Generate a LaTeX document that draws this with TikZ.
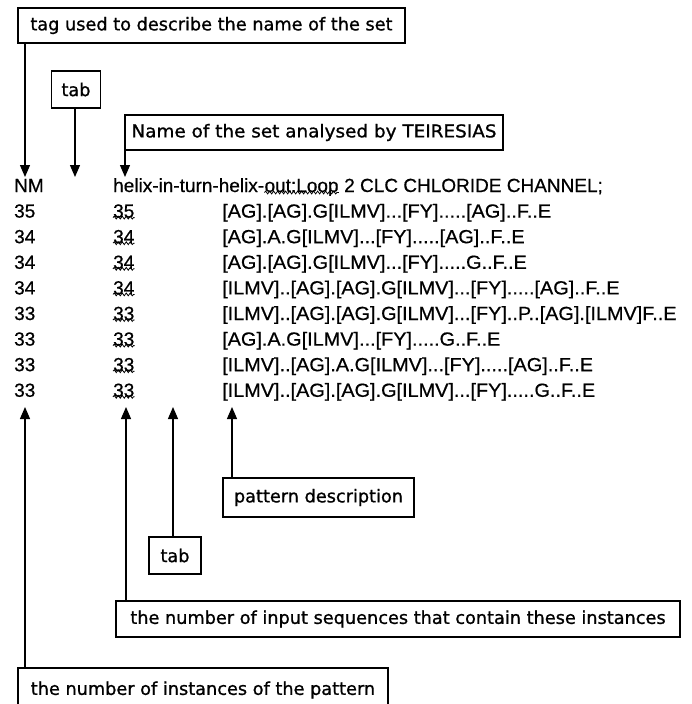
\documentclass[tikz,border=0pt]{standalone}
\usepackage{fontspec}
\newfontfamily\boxfont[FakeBold=1]{DejaVu Sans}
\newfontfamily\rowfont[FakeBold=0.6]{Liberation Sans}
\usetikzlibrary{arrows.meta,decorations.pathmorphing}
\newcommand{\pstretch}[1]{\scalebox{1.045}[1]{#1}}
\begin{document}
\begin{tikzpicture}[x=1pt,y=-1pt,
  lbl/.style={draw, line width=1.3pt, font=\boxfont\fontsize{17.7}{20}\selectfont,
    inner sep=0pt, minimum height=35pt, anchor=center},
  conn/.style={line width=1.3pt, -{Triangle[width=10pt,length=12pt]}},
  row/.style={font=\rowfont\fontsize{19}{22}\selectfont, inner sep=0pt, anchor=base west},
  squig/.style={decorate, decoration={snake, amplitude=1.4pt, segment length=4pt}, line width=0.8pt}]
\useasboundingbox (0,0) rectangle (692,704);
\fill[white] (0,0) rectangle (692,704);
\clip (0,0) rectangle (692,704);

% top labels
\node[lbl, minimum width=387pt] (tag) at (211.5,25.5) {tag used to describe the name of the set};
\node[lbl, minimum width=49pt, minimum height=37pt] (tabA) at (76,89.5) {tab};
\node[lbl, minimum width=378pt] (name) at (314,132.5) {\scalebox{1.04}[1]{Name of the set analysed by TEIRESIAS}};

\coordinate (t1) at (25,177);
\coordinate (t2) at (75,177);
\coordinate (t3) at (125,177);
\draw[conn] (tag.south -| t1) -- (t1);
\draw[conn] (tabA.south -| t2) -- (t2);
\draw[conn] (name.south -| t3) -- (t3);

% header row
\node[row] (nm) at (14,192) {NM};
\node[row] (h1) at (113,192) {helix-in-turn-helix-};
\node[row, anchor=base west] (h2) at (h1.base east) {out:Loop};
\node[row, anchor=base west] (h3) at (h2.base east) {\ 2 CLC CHLORIDE CHANNEL;};
\draw[squig] ([yshift=-0.5pt]h2.base west) -- ([yshift=-0.5pt]h2.base east);

% data rows
\foreach \i/\a/\p in {
  1/35/{[AG].[AG].G[ILMV]...[FY].....[AG]..F..E},
  2/34/{[AG].A.G[ILMV]...[FY].....[AG]..F..E},
  3/34/{[AG].[AG].G[ILMV]...[FY].....G..F..E},
  4/34/{[ILMV]..[AG].[AG].G[ILMV]...[FY].....[AG]..F..E},
  5/33/{[ILMV]..[AG].[AG].G[ILMV]...[FY]..P..[AG].[ILMV]F..E},
  6/33/{[AG].A.G[ILMV]...[FY].....G..F..E},
  7/33/{[ILMV]..[AG].A.G[ILMV]...[FY].....[AG]..F..E},
  8/33/{[ILMV]..[AG].[AG].G[ILMV]...[FY].....G..F..E}}{
  \pgfmathsetmacro{\yb}{192+25.6*\i}
  \node[row] (c1r\i) at (14,\yb) {\a};
  \node[row] (c2r\i) at (113,\yb) {\a};
  \node[row] (c3r\i) at (222,\yb) {\pstretch{\p}};
  \draw[squig] ([yshift=0pt]c2r\i.base west) -- ([yshift=0pt]c2r\i.base east);
}

% bottom labels
\node[lbl, minimum width=191pt, minimum height=39pt] (pat) at (318.5,497.5) {pattern description};
\node[lbl, minimum width=52pt, minimum height=37pt] (tabB) at (175,555.5) {tab};
\node[lbl, minimum width=564pt, minimum height=36pt] (inp) at (398,619) {the number of input sequences that contain these instances};
\node[lbl, minimum width=370pt, minimum height=44pt] (inst) at (203,690) {the number of instances of the pattern};

\coordinate (u1) at (25,407);
\coordinate (u2) at (126,407);
\coordinate (u3) at (173,407);
\coordinate (u4) at (232,407);
\draw[conn] (inst.north -| u1) -- (u1);
\draw[conn] (inp.north -| u2) -- (u2);
\draw[conn] (tabB.north -| u3) -- (u3);
\draw[conn] (pat.north -| u4) -- (u4);
\end{tikzpicture}
\end{document}
